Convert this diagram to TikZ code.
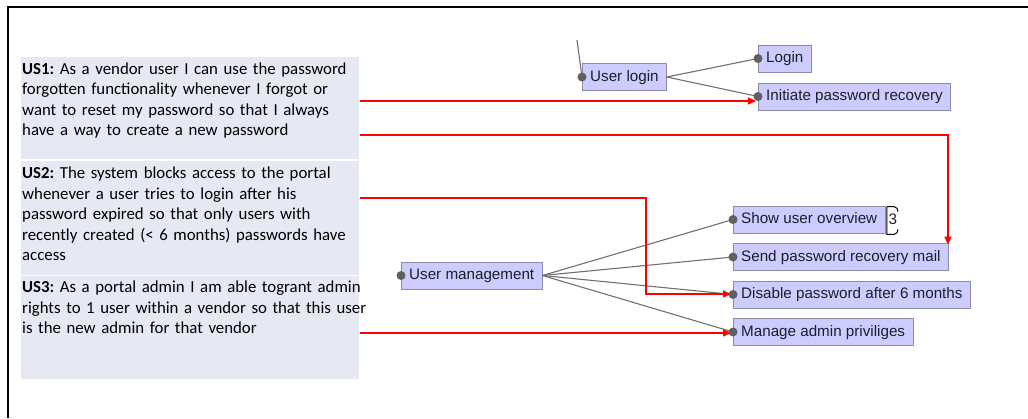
\documentclass[tikz,border=0pt]{standalone}
\usepackage{fontspec}
\newfontfamily\storyfont{Carlito}
\newfontfamily\mmfont{Liberation Sans}
\usetikzlibrary{arrows.meta}
\frenchspacing
\definecolor{storyfill}{HTML}{E6E8F4}
\definecolor{mmfill}{HTML}{CCCCFF}
\definecolor{mmborder}{HTML}{8C8CA8}
\definecolor{mmtext}{HTML}{1E1E2A}
\definecolor{mmdotc}{HTML}{606060}
\definecolor{mmedgec}{HTML}{707070}
\definecolor{usred}{HTML}{FF0000}
\tikzset{
  mmnode/.style={draw=mmborder, line width=0.8pt, fill=mmfill, text=mmtext,
    font=\mmfont\fontsize{15.2}{18}\selectfont, inner xsep=7.8pt, inner ysep=6.5pt,
    text height=11pt, text depth=3pt, anchor=west},
  mmdot/.style={circle, fill=mmdotc, inner sep=0pt, minimum size=9pt},
  mmedge/.style={draw=mmedgec, line width=1.1pt},
  usarrow/.style={draw=usred, line width=1.4pt, -{Triangle[length=8pt,width=7pt]}},
  story/.style={font=\storyfont\fontsize{16.8}{20.5}\selectfont, text width=380pt,
    align=left, anchor=base west, inner sep=0pt, text=black},
  storybox/.style={fill=storyfill, draw=none}
}
\begin{document}
\begin{tikzpicture}[x=1pt,y=-1pt]
\useasboundingbox (0,0) rectangle (1028,418);
% frame
\draw[line width=1.5pt, black] (8,418) -- (8,7) -- (1028,7);
% story backgrounds
\fill[storybox] (21,57) rectangle (359,159);
\fill[storybox] (21,160.5) rectangle (359,274.5);
\fill[storybox] (21,276) rectangle (359,379);
% stories
\node[story] (us1) at (22,74) {\textbf{US1:} As a vendor user I can use the password\\forgotten functionality whenever I forgot or\\want to reset my password so that I always\\have a way to create a new password};
\node[story] (us2) at (22,178.5) {\textbf{US2:} The system blocks access to the portal\\whenever a user tries to login after his\\password expired so that only users with\\recently created (< 6 months) passwords have\\access};
\node[story] (us3) at (22,292.7) {\textbf{US3:} As a portal admin I am able togrant admin\\rights to 1 user within a vendor so that this user\\is the new admin for that vendor};
% mind map nodes
\node[mmnode] (userlogin) at (582,77) {User login};
\node[mmnode] (login) at (758,58.5) {Login};
\node[mmnode] (initiate) at (758,96.5) {Initiate password recovery};
\node[mmnode] (usermgmt) at (401,275.5) {User management};
\node[mmnode] (showuser) at (733,219.5) {Show user overview};
\node[mmnode] (sendmail) at (733,257) {Send password recovery mail};
\node[mmnode] (disable) at (733,294.5) {Disable password after 6 months};
\node[mmnode] (manage) at (733,332) {Manage admin priviliges};
% badge
\node[anchor=west, inner sep=0pt, text=mmtext, font=\mmfont\fontsize{15.2}{18}\selectfont] (badge) at ([xshift=3pt]showuser.east) {3};
\draw[line width=1pt, black] ([xshift=1.5pt]showuser.east |- showuser.north) ++(0,1) coordinate (bktl)
  -- ++(7,0) .. controls +(3,0) and +(0,-2) .. ++(4,5);
\draw[line width=1pt, black] (bktl) -- ([xshift=1.5pt,yshift=-1pt]showuser.east |- showuser.south) coordinate (bkbl)
  -- ++(7,0) .. controls +(3,0) and +(0,2) .. ++(4,-5);
% gray edges
\coordinate (stub) at (577,40);
\draw[mmedge] (stub) -- (userlogin.west);
\draw[mmedge] (userlogin.east) -- (login.west);
\draw[mmedge] (userlogin.east) -- (initiate.west);
\draw[mmedge] (usermgmt.east) -- (showuser.west);
\draw[mmedge] (usermgmt.east) -- (sendmail.west);
\draw[mmedge] (usermgmt.east) -- (disable.west);
\draw[mmedge] (usermgmt.east) -- (manage.west);
% red arrows
\coordinate (s1a) at (360,101);
\coordinate (s1b) at (360,135);
\coordinate (drop) at (948,135);
\coordinate (s2) at (360,198);
\coordinate (bend2) at (646,294);
\coordinate (s3) at (360,333);
\draw[usarrow] (s1a) -- ([xshift=-2pt]s1a -| initiate.west);
\draw[usarrow] (s1b) -- (drop) -- ([yshift=-1.5pt]drop |- sendmail.north);
\draw[usarrow] (s2) -| (bend2) -- ([xshift=-2pt]bend2 -| disable.west);
\draw[usarrow] (s3) -- ([xshift=-2pt]s3 -| manage.west);
% dots
\node[mmdot] (dul) at (userlogin.west) {};
\node[mmdot] (dl) at (login.west) {};
\node[mmdot] (di) at (initiate.west) {};
\node[mmdot] (dum) at (usermgmt.west) {};
\node[mmdot] (dsu) at (showuser.west) {};
\node[mmdot] (dsm) at (sendmail.west) {};
\node[mmdot] (dd) at (disable.west) {};
\node[mmdot] (dm) at (manage.west) {};
\end{tikzpicture}
\end{document}
